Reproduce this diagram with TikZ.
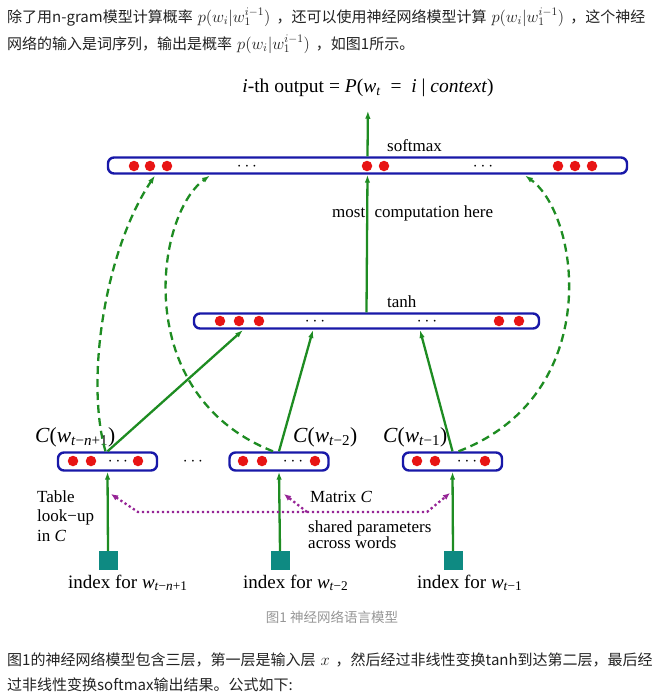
\documentclass[tikz,border=0pt]{standalone}
\usepackage{fontspec}
\usepackage{graphicx}
\usetikzlibrary{arrows.meta}
\newfontfamily\cjk{Noto Sans CJK SC}
\newfontfamily\tms{Liberation Serif}
\definecolor{boxblue}{RGB}{24,24,168}
\definecolor{unitred}{RGB}{232,20,20}
\definecolor{linkgreen}{RGB}{30,140,34}
\definecolor{idxteal}{RGB}{14,138,130}
\definecolor{sharepurple}{RGB}{150,36,150}
\definecolor{capgray}{RGB}{150,150,150}
\definecolor{inkgray}{RGB}{34,34,34}
\newcommand{\wsub}[1]{\textit{w}\textsubscript{#1}}
\newcommand{\pmath}[1]{\hspace{5pt}{\fontsize{14.4}{18}\selectfont\scalebox{1.15}{$#1$}}\hspace{6pt}}
\begin{document}
\begin{tikzpicture}[x=1pt, y=-1pt, line join=round,
  font=\tms\fontsize{17}{19}\selectfont,
  layer/.style={draw=boxblue, line width=2.4pt, rounded corners=6pt, fill=white, inner sep=0pt},
  unit/.style={circle, fill=unitred, inner sep=0pt, minimum size=10.5pt},
  gap/.style={inner sep=0pt, anchor=base},
  idx/.style={fill=idxteal, inner sep=0pt, minimum size=19pt},
  link/.style={draw=linkgreen, line width=2.3pt, -{Latex[length=8pt, width=5.5pt]}},
  far/.style={link, dash pattern=on 8pt off 5pt},
  share/.style={draw=sharepurple, line width=2.3pt, dash pattern=on 2.3pt off 2.7pt},
  lbl/.style={inner sep=0pt, anchor=base west},
  big/.style={font=\tms\fontsize{21.5}{23}\selectfont},
  para/.style={inner sep=0pt, anchor=base west, text=inkgray, font=\cjk\fontsize{15}{19}\selectfont}]
\useasboundingbox (0,0) rectangle (655,694);
% text above
\node[para] (p1) at (7,22) {除了用n-gram模型计算概率\pmath{p(w_i|w_1^{i-1})}，还可以使用神经网络模型计算\pmath{p(w_i|w_1^{i-1})}，这个神经};
\node[para] (p2) at (7,49) {网络的输入是词序列，输出是概率\pmath{p(w_i|w_1^{i-1})}，如图1所示。};
% layers
\node[layer, minimum width=519pt, minimum height=16pt] (soft) at (367.5,165.5) {};
\node[layer, minimum width=345pt, minimum height=15pt] (hid) at (366.5,321) {};
\node[layer, minimum width=99pt, minimum height=18pt] (emb1) at (107.5,461.5) {};
\node[layer, minimum width=99pt, minimum height=18pt] (emb2) at (279,461.5) {};
\node[layer, minimum width=99pt, minimum height=18pt] (emb3) at (452.5,461.5) {};
\foreach \x in {134,150,167,367,384,558,575,592}
  \node[unit] (s\x) at (\x,166) {};
\foreach \x in {220,239,259,499,519}
  \node[unit] (h\x) at (\x,321) {};
\foreach \x in {73,91,138,243,262,315,417,435,485}
  \node[unit] (e\x) at (\x,461) {};
\foreach \x/\y in {247/170.5,483/170.5,315/325.5,427/325.5,118/465.5,193/465.5,293/465.5,467/465.5}
  \node[gap] (g\x) at (\x,\y) {$\cdots$};
% index squares
\node[idx] (idx1) at (108,560.5) {};
\node[idx] (idx2) at (280,560.5) {};
\node[idx] (idx3) at (453,560.5) {};
% labels
\node[anchor=base, font=\tms\fontsize{19.5}{22}\selectfont] (out) at (368,92)
  {\textit{i}-th output = \textit{P}(\wsub{\textit{t}}\ \ =\ \ \textit{i} | \textit{context})};
\node[lbl] (smx) at (387,151) {softmax};
\node[lbl] (tnh) at (387,307) {tanh};
\node[lbl] (most) at (332,217) {most\hspace{0.55em}computation here};
\node[lbl, big] (c1) at (35,442) {\textit{C}(\wsub{\textit{t}−\textit{n}+1})};
\node[lbl, big] (c2) at (293,442) {\textit{C}(\wsub{\textit{t}−2})};
\node[lbl, big] (c3) at (383,442) {\textit{C}(\wsub{\textit{t}−1})};
\node[lbl, font=\tms\fontsize{19}{21}\selectfont] (i1) at (68,588) {index for \wsub{\textit{t}−\textit{n}+1}};
\node[lbl, font=\tms\fontsize{19}{21}\selectfont] (i2) at (243,588) {index for \wsub{\textit{t}−2}};
\node[lbl, font=\tms\fontsize{19}{21}\selectfont] (i3) at (417,588) {index for \wsub{\textit{t}−1}};
\node[inner sep=0pt, anchor=north west, align=left, font=\tms\fontsize{17}{19.5}\selectfont] (look) at (37,490)
  {Table\\look−up\\in \textit{C}};
\node[lbl] (mat) at (310,502) {Matrix \textit{C}};
\node[inner sep=0pt, anchor=north west, align=left, font=\tms\fontsize{17}{16.5}\selectfont] (shr) at (308,520)
  {shared parameters\\across words};
% connectors
\coordinate (in1) at (243,330);
\coordinate (in2) at (313,330);
\coordinate (in3) at (420,330);
\coordinate (sb1) at (155,175.5);
\coordinate (sb2) at (210,175.5);
\coordinate (sb3) at (525,175.5);
\draw[link, shorten >=11pt] (soft.north) -- (out.south);
\draw[link] (hid.north) -- (soft.south);
\draw[link] (emb1.north) -- (in1);
\draw[link] (emb2.north) -- (in2);
\draw[link] (emb3.north) -- (in3);
\foreach \i in {1,2,3}
  \draw[link] (idx\i.north) -- (emb\i.south);
\draw[far] ([xshift=-2pt]emb1.north) .. controls (85,380) and (105,250) .. (sb1);
\draw[far] ([xshift=-6pt]emb2.north) .. controls (130,395) and (155,215) .. (sb2);
\draw[far] ([xshift=6pt]emb3.north) .. controls (605,395) and (580,215) .. (sb3);
\coordinate (t1) at (111,494);
\coordinate (t2) at (284,494);
\coordinate (t3) at (450,493);
\coordinate (k1) at (138,512);
\coordinate (k2) at (307,512);
\coordinate (k3) at (427,512);
\draw[share, {Latex[length=7pt, width=6pt]}-{Latex[length=7pt, width=6pt]}] (t1) -- (k1) -- (k3) -- (t3);
\draw[share, -{Latex[length=7pt, width=6pt]}] (k2) -- (t2);
% caption and text below
\node[anchor=base, text=capgray, font=\cjk\fontsize{13.5}{16}\selectfont] (cap) at (332,622) {图1 神经网络语言模型};
\node[para] (p3) at (7,665) {图1的神经网络模型包含三层，第一层是输入层\pmath{x}，然后经过非线性变换tanh到达第二层，最后经};
\node[para] (p4) at (7,690) {过非线性变换softmax输出结果。公式如下:};
\end{tikzpicture}
\end{document}
